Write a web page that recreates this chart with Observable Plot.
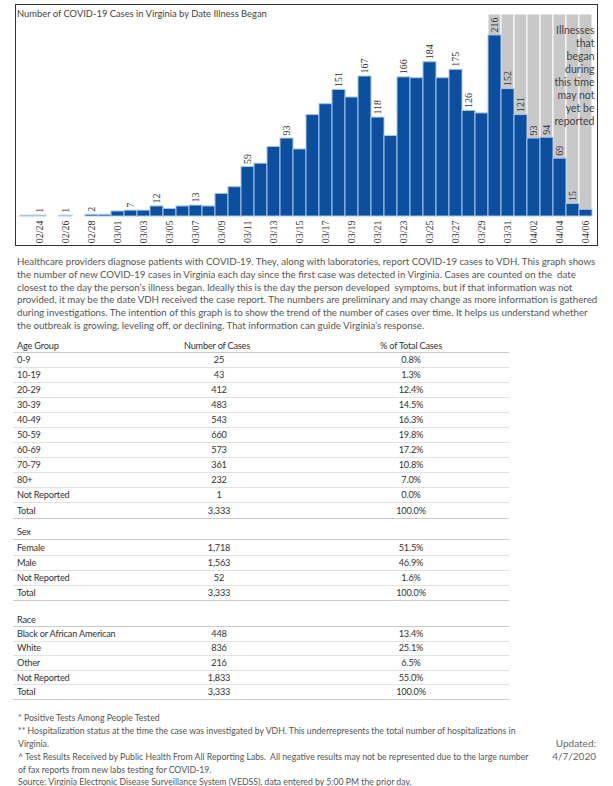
<!DOCTYPE html>
<html><head><meta charset="utf-8">
<script src="https://cdn.jsdelivr.net/npm/d3@7"></script>
<script src="https://cdn.jsdelivr.net/npm/@observablehq/plot@0.6"></script>
<style>
body{margin:0;width:613px;height:786px;position:relative;font-family:Lato,sans-serif;color:#333;background:#fff;overflow:hidden}
#chart{position:absolute;left:0;top:0}
.abs{position:absolute;white-space:pre}
.title{left:17px;top:8px;font-size:10px;color:#444}
.para{left:17px;top:255px;font-size:10.5px;line-height:12.8px;color:#555}
.cell{font-size:9.2px;letter-spacing:-0.2px;color:#333;line-height:15px;height:15px}
.line{position:absolute;left:13px;width:496px;height:1px;background:#e2e2e2}
.line.dark{background:#c9c9c9}
.foot{left:18px;font-size:8.6px;line-height:8px;height:8px;color:#555}
.upd{right:17px;font-size:10px;color:#666;text-align:right}
</style></head>
<body>
<div id="chart"></div>
<div id="title" class="abs title">Number of COVID-19 Cases in Virginia by Date Illness Began</div>
<div id="para" class="abs para"></div>
<div id="tables"></div>
<div id="foot"></div>
<div class="abs upd" style="top:737px">Updated:</div>
<div class="abs upd" style="top:750px">4/7/2020</div>
<script>
const dates = ["02/23","02/24","02/25","02/26","02/27","02/28","02/29",
  "03/01","03/02","03/03","03/04","03/05","03/06","03/07","03/08","03/09","03/10",
  "03/11","03/12","03/13","03/14","03/15","03/16","03/17","03/18","03/19","03/20",
  "03/21","03/22","03/23","03/24","03/25","03/26","03/27","03/28","03/29","03/30",
  "03/31","04/01","04/02","04/03","04/04","04/05","04/06"];
const cases = [1,1,0,1,0,2,2,
  6,7,7,12,9,12,13,12,27,35,
  59,63,83,93,80,121,134,151,142,167,
  118,96,166,165,184,165,175,126,123,216,
  152,121,93,94,69,15,8];
const labeledDates = ["02/24","02/26","02/28","03/02","03/04","03/07","03/11","03/14","03/18","03/20",
  "03/21","03/23","03/25","03/27","03/28","03/30","03/31","04/01","04/02","04/03","04/04","04/05"];
const tickDates = ["02/24","02/26","02/28","03/01","03/03","03/05","03/07","03/09","03/11","03/13","03/15",
  "03/17","03/19","03/21","03/23","03/25","03/27","03/29","03/31","04/02","04/04","04/06"];
const notReportedDates = ["03/30","03/31","04/01","04/02","04/03","04/04","04/05","04/06"];
const noteText = "Illnesses\nthat\nbegan\nduring\nthis time\nmay not\nyet be\nreported";
const yMax = 241;

const data = dates.map((d, i) => ({date: d, cases: cases[i]}));
const labeled = data.filter(d => labeledDates.includes(d.date));

const chart = Plot.plot({
  width: 613, height: 248,
  marginLeft: 15, marginRight: 16, marginTop: 14, marginBottom: 32,
  style: {background: "transparent", fontFamily: "Liberation Serif", overflow: "visible"},
  x: {type: "band", domain: dates, paddingInner: 0, paddingOuter: 0, axis: null},
  y: {domain: [0, yMax], axis: null},
  marks: [
    Plot.barY(notReportedDates, {x: d => d, y1: 0, y2: () => yMax, fill: "#c8c8c8", stroke: "#fff", strokeWidth: 1}),
    Plot.barY(data.filter(d => d.cases > 0), {x: "date", y: "cases", fill: "#0b4f9e", stroke: "#a9c5e6", strokeWidth: 1}),
    Plot.text(labeled, {x: "date", y: "cases", text: d => String(d.cases), rotate: -90, textAnchor: "start", lineAnchor: "middle", dy: -3, fontSize: 10, fill: "#333"}),
    Plot.text(tickDates, {x: d => d, frameAnchor: "bottom", text: d => d, rotate: -90, textAnchor: "end", lineAnchor: "middle", dy: 4, fontSize: 10, fill: "#333"}),
    Plot.text([noteText], {frameAnchor: "top-right", text: d => d, textAnchor: "end", lineAnchor: "top", lineHeight: 1.24, dx: -3, dy: 10, fontSize: 10.5, fontFamily: "Lato", fill: "#444"}),
    Plot.frame({insetTop: -10, insetBottom: -29, stroke: "#333", strokeWidth: 1})
  ]
});
document.getElementById("chart").appendChild(chart);

const paraLines = [
  "Healthcare providers diagnose patients with COVID-19. They, along with laboratories, report COVID-19 cases to VDH. This graph shows",
  "the number of new COVID-19 cases in Virginia each day since the first case was detected in Virginia. Cases are counted on the  date",
  "closest to the day the person\u2019s illness began. Ideally this is the day the person developed  symptoms, but if that information was not",
  "provided, it may be the date VDH received the case report. The numbers are preliminary and may change as more information is gathered",
  "during investigations. The intention of this graph is to show the trend of the number of cases over time. It helps us understand whether",
  "the outbreak is growing, leveling off, or declining. That information can guide Virginia\u2019s response."
];

const colHeaders = ["Age Group", "Number of Cases", "% of Total Cases"];
const ageGroups = ["0-9","10-19","20-29","30-39","40-49","50-59","60-69","70-79","80+","Not Reported","Total"];
const ageCases = ["25","43","412","483","543","660","573","361","232","1","3,333"];
const agePct = ["0.8%","1.3%","12.4%","14.5%","16.3%","19.8%","17.2%","10.8%","7.0%","0.0%","100.0%"];
const sexGroups = ["Female","Male","Not Reported","Total"];
const sexCases = ["1,718","1,563","52","3,333"];
const sexPct = ["51.5%","46.9%","1.6%","100.0%"];
const raceGroups = ["Black or African American","White","Other","Not Reported","Total"];
const raceCases = ["448","836","216","1,833","3,333"];
const racePct = ["13.4%","25.1%","6.5%","55.0%","100.0%"];

const footLines = [
  "* Positive Tests Among People Tested",
  "** Hospitalization status at the time the case was investigated by VDH. This underrepresents the total number of hospitalizations in",
  "Virginia.",
  "^ Test Results Received by Public Health From All Reporting Labs.  All negative results may not be represented due to the large number",
  "of fax reports from new labs testing for COVID-19.",
  "Source: Virginia Electronic Disease Surveillance System (VEDSS), data entered by 5:00 PM the prior day."
];
const footCenters = [717.7, 730.7, 744, 757, 770.3, 781.5];

// fit a text block so that a reference line has the target width
const ctx = document.createElement("canvas").getContext("2d");
function fitSize(text, target, family) {
  ctx.font = `100px ${family}`;
  return 100 * target / ctx.measureText(text).width;
}
document.getElementById("title").style.fontSize = fitSize("Number of COVID-19 Cases in Virginia by Date Illness Began", 251, "Lato") + "px";
const para = document.getElementById("para");
para.textContent = paraLines.join("\n");
para.style.fontSize = fitSize(paraLines[0], 580, "Lato") + "px";
const footSize = fitSize(footLines[3], 513, "Lato");
const foot = document.getElementById("foot");
footLines.forEach((t, i) => {
  const el = document.createElement("div");
  el.className = "abs foot";
  el.textContent = t;
  el.style.fontSize = footSize + "px";
  el.style.top = (footCenters[i] - 4) + "px";
  foot.appendChild(el);
});

const tables = document.getElementById("tables");
function cell(text, cy, x, align) {
  const el = document.createElement("div");
  el.className = "abs cell";
  el.textContent = text;
  el.style.top = (cy - 7.5) + "px";
  if (align === "left") el.style.left = x + "px";
  else { el.style.left = (x - 60) + "px"; el.style.width = "120px"; el.style.textAlign = "center"; }
  tables.appendChild(el);
}
function line(y, dark) {
  const el = document.createElement("div");
  el.className = "line" + (dark ? " dark" : "");
  el.style.top = y + "px";
  tables.appendChild(el);
}
function section(header, headerCols, groups, nums, pcts, headerY, firstY, pitch) {
  cell(header, headerY, 17, "left");
  if (headerCols) { cell(headerCols[0], headerY, 217, "center"); cell(headerCols[1], headerY, 411, "center"); }
  line((headerY + firstY) / 2, true);
  groups.forEach((g, i) => {
    const cy = firstY + i * pitch;
    cell(g, cy, 17, "left");
    cell(nums[i], cy, 219, "center");
    cell(pcts[i], cy, 411, "center");
    line(cy + pitch / 2, i === groups.length - 1);
  });
}
section(colHeaders[0], colHeaders.slice(1), ageGroups, ageCases, agePct, 345, 359.5, 15.05);
section("Sex", null, sexGroups, sexCases, sexPct, 531, 547.3, 15);
section("Race", null, raceGroups, raceCases, racePct, 619.3, 633.3, 14.6);
</script>
</body></html>
